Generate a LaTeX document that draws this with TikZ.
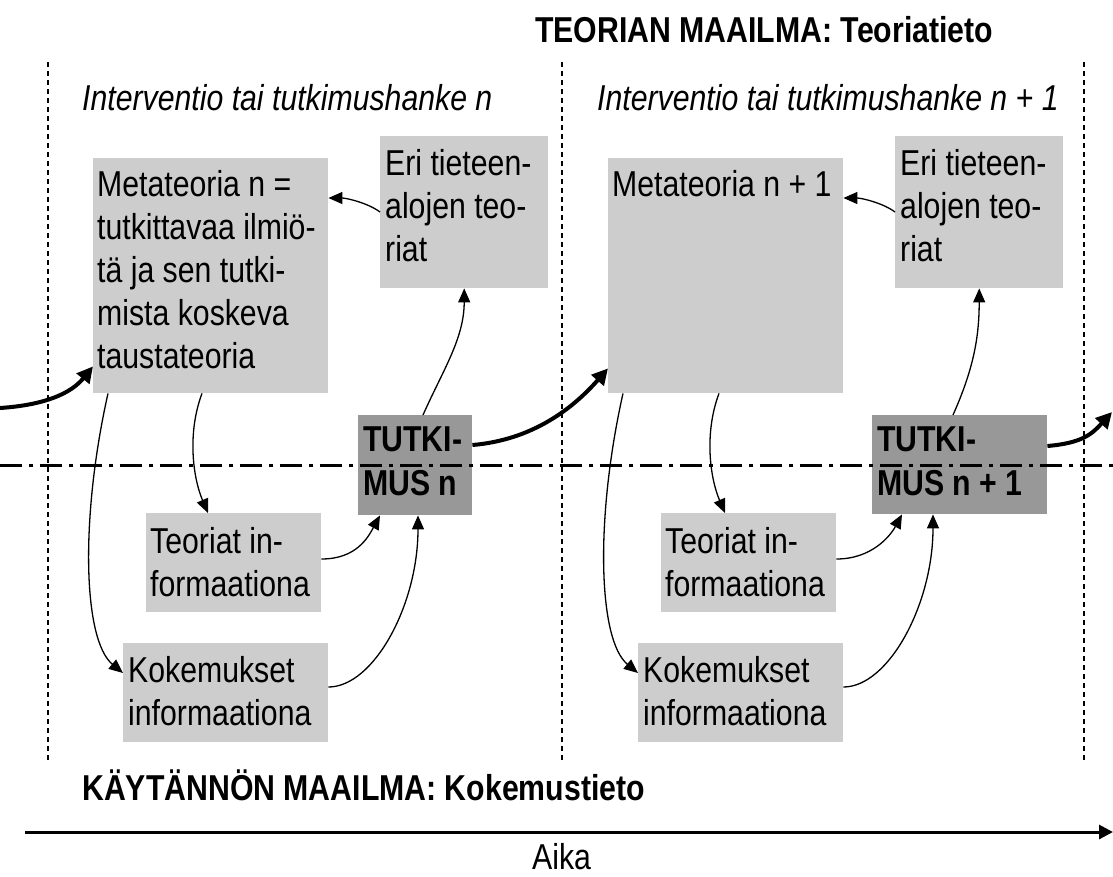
\documentclass[tikz,border=0pt]{standalone}
\usepackage{fontspec}
\setmainfont{Liberation Sans}[FakeStretch=0.84]
\usetikzlibrary{arrows.meta}
\definecolor{boxlight}{HTML}{CDCDCD}
\definecolor{boxdark}{HTML}{989898}
\begin{document}
\begin{tikzpicture}[x=1pt,y=1pt,
  lbox/.style={fill=boxlight, draw=none, inner sep=0pt, anchor=north west},
  dbox/.style={fill=boxdark, draw=none, inner sep=0pt, anchor=north west},
  txt/.style={inner sep=0pt, anchor=north west, align=left, font=\fontsize{36}{43}\selectfont},
  btxt/.style={inner sep=0pt, anchor=north west, align=left, font=\fontsize{36}{44}\selectfont\bfseries},
  conn/.style={line width=1.3pt, -{Triangle[length=14pt,width=12pt]}},
  bigconn/.style={line width=4pt, -{Triangle[length=16pt,width=16pt]}},
  vline/.style={line width=1.3pt, dash pattern=on 5pt off 4pt},
]
\useasboundingbox (0,0) rectangle (1113,-876);

% vertical separators
\draw[vline] (48,-62) -- (48,-762);
\draw[vline] (562,-62) -- (562,-762);
\draw[vline] (1084,-62) -- (1084,-762);

% headings
\node[inner sep=0pt, anchor=base west, font=\fontsize{36}{43}\selectfont\bfseries] (titleT) at (535,-42) {TEORIAN MAAILMA: Teoriatieto};
\node[inner sep=0pt, anchor=base west, font=\fontsize{36}{43}\selectfont\itshape] (hdr1) at (82,-110) {Interventio tai tutkimushanke n};
\node[inner sep=0pt, anchor=base west, font=\fontsize{36}{43}\selectfont\itshape] (hdr2) at (597,-110) {Interventio tai tutkimushanke n + 1};
\node[inner sep=0pt, anchor=base west, font=\fontsize{36}{43}\selectfont\bfseries] (titleK) at (82,-800) {KÄYTÄNNÖN MAAILMA: Kokemustieto};
\node[inner sep=0pt, anchor=base west, font=\fontsize{36}{43}\selectfont] (aika) at (532,-869) {Aika};

% boxes, intervention n
\node[lbox, minimum width=235pt, minimum height=235pt] (meta1) at (93,-158) {};
\node[lbox, minimum width=168pt, minimum height=152pt] (eri1) at (380,-136) {};
\node[dbox, minimum width=114pt, minimum height=100pt] (tut1) at (358,-415) {};
\node[lbox, minimum width=175pt, minimum height=99pt] (teo1) at (146,-513) {};
\node[lbox, minimum width=205pt, minimum height=99pt] (kok1) at (123,-643) {};
% boxes, intervention n+1
\node[lbox, minimum width=235pt, minimum height=235pt] (meta2) at (608,-158) {};
\node[lbox, minimum width=168pt, minimum height=152pt] (eri2) at (895,-136) {};
\node[dbox, minimum width=175pt, minimum height=99pt] (tut2) at (872,-415) {};
\node[lbox, minimum width=175pt, minimum height=99pt] (teo2) at (661,-513) {};
\node[lbox, minimum width=205pt, minimum height=99pt] (kok2) at (638,-643) {};

% dash-dot boundary
\draw[line width=3pt, dash pattern=on 22pt off 7pt on 4pt off 7pt] (0,-465) -- (1113,-465);

% box texts
\node[txt] (meta1t) at (97,-170) {Metateoria n =\\tutkittavaa ilmiö-\\tä ja sen tutki-\\mista koskeva\\taustateoria};
\node[txt] (eri1t) at (385,-149) {Eri tieteen-\\alojen teo-\\riat};
\node[btxt] (tut1t) at (363,-427) {TUTKI-\\MUS n};
\node[txt] (teo1t) at (150,-527) {Teoriat in-\\formaationa};
\node[txt] (kok1t) at (128,-656) {Kokemukset\\informaationa};
\node[txt] (meta2t) at (612,-170) {Metateoria n + 1};
\node[txt] (eri2t) at (900,-149) {Eri tieteen-\\alojen teo-\\riat};
\node[btxt] (tut2t) at (877,-427) {TUTKI-\\MUS n + 1};
\node[txt] (teo2t) at (665,-527) {Teoriat in-\\formaationa};
\node[txt] (kok2t) at (643,-656) {Kokemukset\\informaationa};

% connectors, intervention n
\coordinate (inL) at (0,-408);
\draw[bigconn] (inL) .. controls +(45,3) and +(-22,-27) .. ([yshift=27pt]meta1.south west);
\draw[conn] ([yshift=-76pt]eri1.north west) .. controls +(-12,9) and +(18,0) .. ([yshift=-40pt]meta1.north east);
\draw[conn] ([xshift=65pt]tut1.north west) .. controls +(20,45) and +(0,-50) .. (eri1.south);
\draw[conn] ([xshift=15pt]meta1.south west) .. controls +(-28,-125) and +(-40,33) .. ([yshift=-30pt]kok1.north west);
\draw[conn] ([xshift=109pt]meta1.south west) .. controls +(-15,-40) and +(-15,35) .. ([xshift=62pt]teo1.north west);
\draw[conn] ([yshift=-46pt]teo1.north east) .. controls +(35,0) and +(-12,-22) .. ([xshift=22pt]tut1.south west);
\draw[conn] ([yshift=-44pt]kok1.north east) .. controls +(45,0) and +(0,-90) .. ([xshift=60pt]tut1.south west);
\draw[bigconn] ([yshift=-30pt]tut1.north east) .. controls +(60,5) and +(-35,-40) .. ([yshift=25pt]meta2.south west);

% connectors, intervention n+1
\draw[conn] ([yshift=-76pt]eri2.north west) .. controls +(-12,9) and +(18,0) .. ([yshift=-40pt]meta2.north east);
\draw[conn] ([xshift=81pt]tut2.north west) .. controls +(20,45) and +(0,-50) .. (eri2.south);
\draw[conn] ([xshift=15pt]meta2.south west) .. controls +(-28,-125) and +(-40,33) .. ([yshift=-30pt]kok2.north west);
\draw[conn] ([xshift=111pt]meta2.south west) .. controls +(-15,-40) and +(-15,35) .. ([xshift=64pt]teo2.north west);
\draw[conn] ([yshift=-46pt]teo2.north east) .. controls +(35,0) and +(-12,-22) .. ([xshift=30pt]tut2.south west);
\draw[conn] ([yshift=-44pt]kok2.north east) .. controls +(45,0) and +(0,-90) .. ([xshift=61pt]tut2.south west);
\coordinate (outR) at (1112,-412);
\draw[bigconn] ([yshift=-31pt]tut2.north east) .. controls +(35,3) and +(-20,-22) .. (outR);

% time axis
\coordinate (tA) at (25,-832);
\coordinate (tB) at (1113,-832);
\draw[line width=3pt, -{Triangle[length=14pt,width=14pt]}] (tA) -- (tB);
\end{tikzpicture}
\end{document}
